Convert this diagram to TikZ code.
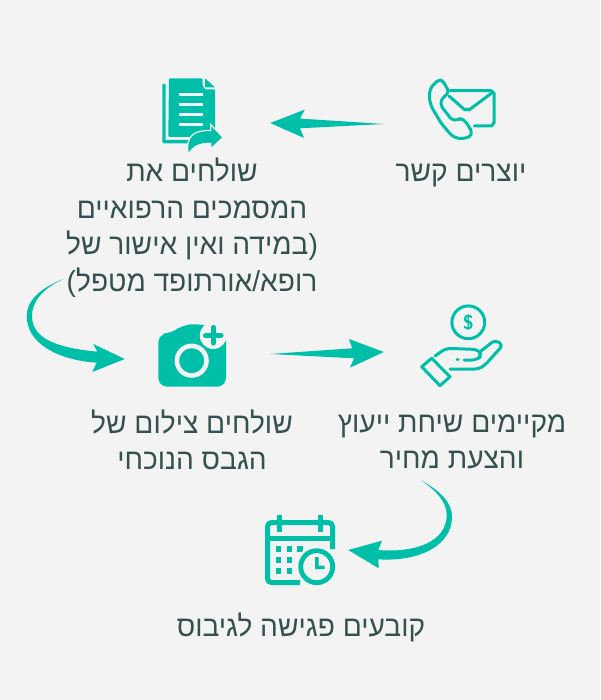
\documentclass[tikz,border=0pt]{standalone}
\usepackage{fontspec}
\newfontfamily\hebfont[Script=Hebrew,FakeStretch=0.97]{Liberation Sans}
\TeXXeTstate=1
\usetikzlibrary{calc}
\definecolor{tealicon}{HTML}{00BFA8}
\definecolor{inktext}{HTML}{34504F}
\definecolor{pagebg}{HTML}{F3F3F3}
\newcommand{\heb}[1]{\beginR #1\endR}
\tikzset{
	txt/.style={text=inktext, align=center, inner sep=0pt, font=\hebfont\fontsize{29}{36.5}\selectfont},
	iconbox/.style={inner sep=0pt, minimum size=50pt},
	flow/.style={fill=tealicon, draw=none},
	thinicon/.style={draw=tealicon, line width=3pt, line join=round, line cap=round},
	fatline/.style={draw=tealicon, line width=5pt}
}
\begin{document}
\begin{tikzpicture}[x=1pt, y=-1pt]
\fill[pagebg] (0,0) rectangle (600,700);
\useasboundingbox (0,0) rectangle (600,700);
% labels
\node[txt] (lblcall) at (461,176) {\heb{יוצרים קשר}};
\node[txt] (lbldocs) at (192,227.5) {\heb{שולחים את}\\\heb{המסמכים הרפואיים}\\\heb{(במידה ואין אישור של}\\\heb{רופא/אורתופד מטפל)}};
\node[txt] (lblphoto) at (192,440) {\heb{שולחים צילום של}\\\heb{הגבס הנוכחי}};
\node[txt] (lbloffer) at (452,442) {\heb{מקיימים שיחת ייעוץ}\\\heb{והצעת מחיר}};
\node[txt] (lblmeet) at (301,627) {\heb{קובעים פגישה לגיבוס}};
% anchors of the icons
\node[iconbox] (call) at (461,109) {};
\node[iconbox] (docs) at (192,116) {};
\node[iconbox] (photo) at (192,355) {};
\node[iconbox] (offer) at (462,347) {};
\node[iconbox] (meet) at (300,551) {};
% phone and envelope
\draw[thinicon] (450,90.7) -- (491,90.7) to[out=0,in=-90] (494,93) -- (494,123) to[out=90,in=0] (491,126) -- (474.3,126);
\draw[thinicon] (449,96) -- (465,110) to[out=50,in=130] (469,110) -- (493,92);
\draw[thinicon, rounded corners=3pt] (439,79.5) -- (443,81) -- (449,92) -- (441,100) -- (441,106) -- (452,120) -- (458,120) -- (461,118) -- (466,122) -- (472,132) -- (470,137) -- (460,139) -- (452,136) -- (441,123) -- (431,106) -- (429,96) -- (431,87) -- cycle;
% document with share arrow
\fill[tealicon] (162.3,84) -- (165.7,84) -- (165.7,140) -- (190,140) -- (190,143.5) -- (164,143.5) -- (162.3,142) -- cycle;
\fill[tealicon, rounded corners=1pt] (169,78.3) -- (202.5,78.3) -- (202.5,85) -- (205,89.5) -- (215,89.5) -- (215,137) -- (168.3,137) -- cycle;
\fill[tealicon] (205,78.3) -- (215,87.5) -- (205,87.5) -- cycle;
\foreach \y in {94.3,104.3,114.3,124.3} \draw[pagebg, line width=2.8pt] (179.3,\y) -- (203.3,\y);
\fill[tealicon, draw=pagebg, line width=1.2pt] (188.3,154.5) .. controls (185,136) and (194,130) .. (210.7,130.5) -- (210.7,124.5) -- (223,137.3) -- (210.7,149) -- (210.7,143.5) .. controls (200,143) and (193,146) .. (188.3,154.5) -- cycle;
% camera with plus
\fill[tealicon, rounded corners=9pt] (158.3,333.5) -- (172,333.5) -- (183,324.3) -- (204,324.3) -- (226,332) -- (226,386.7) -- (158.3,386.7) -- cycle;
\draw[pagebg, line width=4.6pt] (191.7,360.7) circle (14.8pt);
\fill[pagebg] (213.3,335.5) circle (13.5pt);
\draw[tealicon, line width=5.2pt, line cap=round] (205.5,335.7) -- (221,335.7) (213.3,327.5) -- (213.3,343);
% hand and coin
\draw[thinicon] (468.3,322.3) circle (16.4pt);
\node[text=tealicon, inner sep=0pt, font=\sffamily\bfseries\fontsize{20}{20}\selectfont] (coinmark) at (468.3,322.3) {\$};
\draw[thinicon] (421.7,366.7) -- (431.7,358.3) -- (450,376.7) -- (440,385.7) -- cycle;
\draw[thinicon, rounded corners=5pt] (435,356) -- (446,348.3) -- (478,349.5) -- (482,355) -- (477,360) -- (464,360);
\draw[thinicon, rounded corners=4pt] (481,351) -- (495,340) -- (503,345) -- (485,365) -- (479,369) -- (450,369);
\draw[thinicon] (457,359) -- (458,359);
% calendar with clock
\draw[fatline, rounded corners=4pt] (300,582.5) -- (267.5,582.5) -- (267.5,522.5) -- (332.5,522.5) -- (332.5,549);
\draw[fatline] (267.5,538) -- (332.5,538);
\foreach \x in {279,320.7} \draw[tealicon, line width=5pt] (\x,515) -- (\x,531.7);
\foreach \x/\y in {278.3/549,289.3/549,300/549,278.3/560,289.3/560,278.3/571,289.3/571} \fill[tealicon] (\x-2.8,\y-2.8) rectangle (\x+2.8,\y+2.8);
\fill[pagebg] (316.7,566.7) circle (21pt);
\draw[fatline, line width=4.8pt] (316.7,566.7) circle (16pt);
\fill[tealicon] (315,557) -- (318.5,557) -- (318.5,565.5) -- (324.5,565.5) -- (324.5,569) -- (315,569) -- cycle;
% connectors
\coordinate (tailA) at ($(call.west)+(-52,15)$);
\coordinate (tipA) at ($(docs.east)+(53,7)$);
\fill[flow] (tipA) -- ++(34.7,-13.4) -- ++(-5,9) -- (tailA) -- (300,128.3) -- (304,138) -- cycle;
\coordinate (tailB) at (63.3,279);
\coordinate (tipB) at ($(photo.west)+(-42,4)$);
\fill[flow] (tailB) .. controls (38,289) and (26.7,302) .. (26.7,316) .. controls (26.7,343) and (57,360) .. (96.7,362.7) -- (92.3,372) -- (tipB) -- (93.3,344) -- (97.3,351.7) .. controls (60,348) and (32,340) .. (32,316) .. controls (32,302) and (42,289) .. (tailB) -- cycle;
\coordinate (tailC) at ($(photo.east)+(53,-1)$);
\coordinate (tipC) at ($(offer.west)+(-53,5)$);
\fill[flow] (tailC) -- (352.3,348.3) -- (349,339) -- (tipC) -- (350,367.7) -- (354,358.3) -- cycle;
\coordinate (tailD) at (421,480.3);
\coordinate (tipD) at ($(meet.east)+(23,-1)$);
\fill[flow] (tailD) .. controls (440,491) and (452,502) .. (452,517) .. controls (452,545) and (420,562) .. (378.3,559.3) -- (378.7,568.3) -- (tipD) -- (382,540.7) -- (378.3,550) .. controls (415,553) and (446.7,542) .. (446.7,515) .. controls (446.7,503) and (438,492) .. (tailD) -- cycle;
\end{tikzpicture}
\end{document}
